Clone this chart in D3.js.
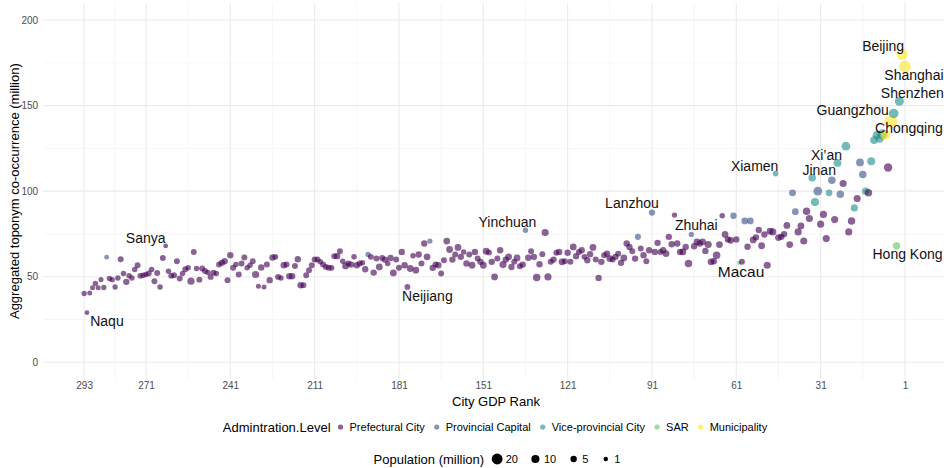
<!DOCTYPE html>
<html>
<head>
<meta charset="utf-8">
<script src="https://cdn.jsdelivr.net/npm/d3@7"></script>
<style>
  body { margin: 0; background: #fff; }
  svg { display: block; font-family: "Liberation Sans", Arial, sans-serif; }
</style>
</head>
<body>
<svg id="chart" width="944" height="468"></svg>
<script>
// City GDP rank (1 = largest economy) for every city in the sample
const gdpRank = d3.range(1, 294);

// Aggregated toponym co-occurrence (million), in GDP-rank order
const cooccurrence = [
  172.7, 180, 152.5, 68, 145.4, 140.5, 113.8, 132.7, 133.3, 130.8,
  132.7, 129.8, 117.5, 99, 100, 109.8, 116.8, 95.7, 90.2, 82.6,
  76.2, 126.3, 104.5, 98.2, 116.5, 83.4, 106.4, 99, 72.3, 86.4,
  80.7, 100, 93.6, 107.8, 84, 88.3, 70.9, 79.7, 76.2, 88,
  99, 68.8, 80, 74.9, 73.3, 72.9, 110.3, 76.2, 76.6, 56.7,
  74.7, 68.1, 77.3, 73, 71.5, 82.6, 67.5, 82.6, 58.7, 58.1,
  71.8, 85.6, 71.3, 71.8, 74.7, 85.6, 68.8, 62.6, 59, 58.7,
  68.8, 65.1, 70.4, 69.4, 70.4, 67.8, 74.7, 57.7, 67.4, 64.5,
  64.5, 69.4, 86, 69, 73.3, 63.5, 65.5, 64.5, 69.8, 64.5,
  87.5, 65.5, 59, 62.6, 66.5, 73.3, 60.6, 64.9, 67.4, 69.4,
  61, 58.1, 63.5, 61.6, 60, 60.6, 63.5, 62.6, 58.7, 49.3,
  60, 67.1, 63.2, 59.6, 61.6, 65.5, 64.5, 62, 67.4, 58.7,
  64, 59, 58.7, 64.5, 64, 60, 58.7, 49.9, 75.8, 63.2,
  57.3, 49.5, 61.6, 64.9, 61.1, 77.2, 57.1, 56.1, 61, 58.7,
  55.7, 61.6, 60, 57.1, 65.5, 60.6, 49.9, 58.7, 64.2, 64.9,
  56.7, 58.7, 60.6, 64.5, 56.7, 63, 57.7, 64.5, 61.6, 67.1,
  63, 60, 65.9, 70.8, 59.6, 51.9, 56.7, 57.1, 55.2, 70.8,
  61.6, 69.4, 57.7, 63, 53.8, 62.2, 54.8, 44, 56.7, 64.5,
  55.2, 60, 52.2, 61, 57.7, 60, 61, 55.7, 60.6, 52.4,
  61.6, 63, 54.4, 58.1, 57.7, 56.7, 61.6, 57.1, 57.7, 56.3,
  59, 64.9, 62, 62, 55.2, 55.2, 55.7, 57.1, 58.7, 60,
  60, 56.7, 53.8, 50.9, 45, 45, 60.2, 56.3, 50.3, 50.3,
  57.1, 56.7, 49.3, 49.9, 61.6, 61.2, 48, 57.1, 44, 55.4,
  44.4, 51.3, 59, 56.7, 55.2, 61.2, 57.7, 51.3, 57.1, 55.2,
  62.6, 48, 59, 58.1, 57.1, 51.9, 52.4, 49.9, 52.4, 53.4,
  54.8, 48.3, 54.8, 64.5, 47.4, 55.2, 54.4, 51.9, 49, 59,
  50.9, 50.5, 53.2, 68, 61, 44, 52.2, 47.4, 54.2, 51.9,
  51.3, 50.9, 50.5, 56.7, 54.2, 49.3, 50.5, 47, 51.9, 60.2,
  49.3, 44, 48.3, 49, 61.4, 43.7, 48.3, 43.5, 46, 43.5,
  40.5, 29, 40.2
];

// Resident population (million), in GDP-rank order
const population = [
  24, 21.5, 13, 7.5, 15, 31, 10.7, 15.6, 16.5, 11,
  10.4, 8.5, 9.5, 8, 7, 8, 9, 7, 7, 8,
  7, 12, 7, 8, 9, 7, 8, 6, 7, 7,
  7, 12, 10, 8, 7, 8, 7, 6, 7, 6,
  6.5, 6, 6, 5, 5, 6, 3.5, 7, 6, 7,
  5, 6, 5, 5, 6, 6, 5, 6, 4, 0.7,
  5, 5, 6, 5, 6, 3, 6, 8, 5, 6,
  7, 5, 6, 5, 6, 5, 2.5, 8, 5, 6,
  5, 5, 2.5, 5, 5, 6, 5, 4, 5, 5,
  4.5, 5, 4, 5, 4, 4.5, 5, 4, 5, 5,
  6, 5, 4, 5, 4, 6, 5, 4, 5, 5,
  4, 6, 5, 5, 4, 5, 4, 5, 6, 4,
  5, 4, 6, 5, 4, 5, 4, 7, 7, 4,
  5, 8, 5, 4, 5, 2.8, 5, 4, 6, 4,
  5, 6, 5, 7, 5, 4, 6, 5, 4, 6,
  6, 5, 4, 5, 6, 4, 5, 3, 5, 6,
  4, 5, 6, 6, 4, 4, 5, 4, 5, 2.5,
  6, 5, 4, 5, 6, 3, 6, 3.5, 5, 5,
  4, 4, 6, 5, 3, 5, 4, 6, 4, 5,
  4, 2.5, 5, 3, 4, 5, 3, 5, 4, 6,
  3, 4, 5, 4, 3.5, 4, 3.5, 4, 3, 4,
  4, 4, 4, 4, 4, 5, 5, 4, 5, 5,
  4, 5, 3, 4, 4, 5, 5, 4, 2, 5,
  2, 7, 4, 3, 3, 4, 4, 4, 3, 4,
  5, 4, 5, 5, 4, 3, 4, 4, 3, 4,
  4, 4, 3, 4, 7, 3, 4, 3, 4, 4,
  4, 4, 3, 1.5, 4, 3, 4, 4, 3, 3.5,
  3, 3, 4, 4, 3, 3, 3, 5, 3, 4,
  3, 2.5, 2.5, 3, 1.5, 2.5, 2, 2, 3, 2,
  2, 1.5, 2.5
];

// Administrative level; cities not listed below are prefectural cities
const levelNames = ["Prefectural City", "Provincial Capital", "Vice-provincial City", "SAR", "Municipality"];
const provincialCapitalRanks = [16, 17, 24, 27, 32, 40, 41, 56, 58, 62, 77, 91, 96, 136, 170, 192, 285];
const viceProvincialRanks = [3, 5, 9, 10, 11, 12, 13, 15, 19, 22, 25, 28, 33, 34, 47];
const sarRanks = [4, 60];
const municipalityRanks = [1, 2, 6, 8];

// Named cities
const labelNames = ["Beijing", "Shanghai", "Shenzhen", "Guangzhou", "Chongqing", "Xi’an", "Jinan", "Xiamen",
  "Lanzhou", "Zhuhai", "Macau", "Hong Kong", "Yinchuan", "Neijiang", "Sanya", "Naqu"];
const labelRanks = [2, 1, 3, 5, 6, 25, 34, 47, 91, 77, 60, 4, 136, 178, 264, 292];

// Axis breaks and legend breaks
const xTicks = [293, 271, 241, 211, 181, 151, 121, 91, 61, 31, 1];
const xMinorTicks = [282, 256, 226, 196, 166, 136, 106, 76, 46, 16];
const yTicks = [0, 50, 100, 150, 200];
const yMinorTicks = [25, 75, 125, 175];
const sizeBreaks = [20, 10, 5, 1];

// ---------------------------------------------------------------------------
const levelColors = ["#440154", "#3B528B", "#21908C", "#5DC863", "#FDE725"];
const pointAlpha = 0.62;

const levelOf = r =>
  municipalityRanks.includes(r) ? 4 :
  sarRanks.includes(r) ? 3 :
  viceProvincialRanks.includes(r) ? 2 :
  provincialCapitalRanks.includes(r) ? 1 : 0;

const cities = gdpRank.map((r, i) => ({
  rank: r, value: cooccurrence[i], pop: population[i], level: levelOf(r)
}));

const svg = d3.select("#chart");
const panel = { left: 43.1, right: 946, top: 2.9, bottom: 379.4 };

// reversed rank axis, 5% padding on both sides
const x = d3.scaleLinear().domain([307.6, -13.6]).range([panel.left, panel.right]);
const y = d3.scaleLinear().domain([-10, 210]).range([panel.bottom, panel.top]);
const r = d3.scaleRadial().domain([0.5, 31]).range([2.1, 6.6]);
const color = d3.scaleOrdinal().domain(d3.range(5)).range(levelColors);

// grid
const grid = svg.append("g");
grid.selectAll(".ymin").data(yMinorTicks).join("line")
  .attr("x1", panel.left).attr("x2", panel.right)
  .attr("y1", d => y(d)).attr("y2", d => y(d))
  .attr("stroke", "#f0f0f0").attr("stroke-width", 0.6);
grid.selectAll(".xmin").data(xMinorTicks).join("line")
  .attr("y1", panel.top).attr("y2", panel.bottom)
  .attr("x1", d => x(d)).attr("x2", d => x(d))
  .attr("stroke", "#f0f0f0").attr("stroke-width", 0.6);
grid.selectAll(".ymaj").data(yTicks).join("line")
  .attr("x1", panel.left).attr("x2", panel.right)
  .attr("y1", d => y(d)).attr("y2", d => y(d))
  .attr("stroke", "#ebebeb").attr("stroke-width", 1.1);
grid.selectAll(".xmaj").data(xTicks).join("line")
  .attr("y1", panel.top).attr("y2", panel.bottom)
  .attr("x1", d => x(d)).attr("x2", d => x(d))
  .attr("stroke", "#ebebeb").attr("stroke-width", 1.1);

// axes
const xAxis = svg.append("g").attr("transform", `translate(0,${panel.bottom})`)
  .call(d3.axisBottom(x).tickValues(xTicks).tickSize(0).tickPadding(3));
const yAxis = svg.append("g").attr("transform", `translate(${panel.left},0)`)
  .call(d3.axisLeft(y).tickValues(yTicks).tickSize(0).tickPadding(5));
[xAxis, yAxis].forEach(a => {
  a.select(".domain").remove();
  a.selectAll("text").attr("fill", "#4d4d4d").style("font-size", "10px")
    .style("font-family", "'Liberation Sans', Arial, sans-serif");
});

svg.append("text").attr("x", 496).attr("y", 401).attr("dy", "0.35em")
  .attr("text-anchor", "middle").style("font-size", "13px").text("City GDP Rank");
svg.append("text").attr("transform", `translate(14,${(panel.top + panel.bottom) / 2}) rotate(-90)`)
  .attr("dy", "0.35em").attr("text-anchor", "middle").style("font-size", "13px")
  .text("Aggregated toponym co-occurrence (million)");

// points (lower ranks drawn last so the largest economies sit on top)
svg.append("g").selectAll("circle")
  .data(cities.slice().reverse())
  .join("circle")
  .attr("cx", d => x(d.rank))
  .attr("cy", d => y(d.value))
  .attr("r", d => r(d.pop))
  .attr("fill", d => color(d.level))
  .attr("fill-opacity", pointAlpha);

// city name labels, offset from their points
const labelOffset = {
  "Beijing": [-19, -8], "Shanghai": [9, 8], "Shenzhen": [13, -8], "Guangzhou": [-41, -3],
  "Chongqing": [18, 6], "Xi’an": [-11, -8], "Jinan": [7, -8], "Xiamen": [-21, -7.5],
  "Lanzhou": [-20, -9.5], "Zhuhai": [5, -9.5], "Macau": [2, 8.5], "Hong Kong": [11, 8],
  "Yinchuan": [-18, -8], "Neijiang": [20, 9], "Sanya": [-20, -8], "Naqu": [20, 8]
};
const labelSize = { "Macau": 15.5 };
svg.append("g").selectAll("text")
  .data(labelNames.map((n, i) => ({ name: n, city: cities[labelRanks[i] - 1] })))
  .join("text")
  .attr("x", d => x(d.city.rank) + labelOffset[d.name][0])
  .attr("y", d => y(d.city.value) + labelOffset[d.name][1])
  .attr("dy", "0.35em")
  .attr("text-anchor", "middle")
  .style("font-size", d => (labelSize[d.name] || 14) + "px")
  .attr("fill", "#111")
  .text(d => d.name);

// colour legend
const leg1 = svg.append("g");
let cx = 0;
const lt1 = leg1.append("text").attr("dy", "0.35em").style("font-size", "13px").text("Admintration.Level");
cx += lt1.node().getComputedTextLength() + 10;
levelNames.forEach((name, i) => {
  leg1.append("circle").attr("cx", cx).attr("cy", 0).attr("r", 2.6)
    .attr("fill", color(i)).attr("fill-opacity", pointAlpha);
  cx += 9;
  const t = leg1.append("text").attr("x", cx).attr("dy", "0.35em").style("font-size", "11px").text(name);
  cx += t.node().getComputedTextLength() + 12;
});
cx -= 12;
leg1.attr("transform", `translate(${495 - cx / 2},427)`);

// size legend
const leg2 = svg.append("g");
let sx = 0;
const lt2 = leg2.append("text").attr("dy", "0.35em").style("font-size", "13px").text("Population (million)");
sx += lt2.node().getComputedTextLength() + 13;
sizeBreaks.forEach((v, i) => {
  leg2.append("circle").attr("cx", sx).attr("cy", 0).attr("r", r(v)).attr("fill", "#000");
  const t = leg2.append("text").attr("x", sx + 8.5).attr("dy", "0.35em").style("font-size", "11px").text(v);
  sx = sx + 8.5 + t.node().getComputedTextLength() + (i < sizeBreaks.length - 1 ? 17.5 : 0);
});
leg2.attr("transform", `translate(${497 - sx / 2},459)`);
</script>
</body>
</html>
